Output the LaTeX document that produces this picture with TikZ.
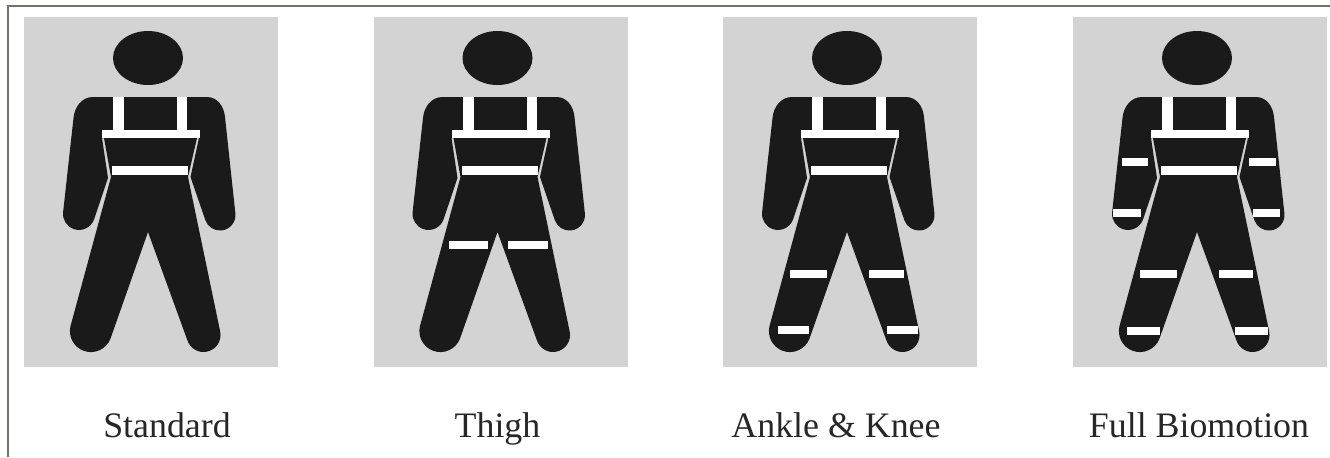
\documentclass[tikz,border=0pt]{standalone}
\usepackage{fontspec}
\setmainfont{Liberation Serif}
\definecolor{suitblack}{HTML}{1A1A1A}
\definecolor{panelgray}{HTML}{D3D3D3}
\definecolor{framegray}{HTML}{6E7566}
\tikzset{
	panel/.style={fill=panelgray},
	suit/.style={fill=suitblack},
	band/.style={fill=white},
	caption/.style={anchor=base, font=\fontsize{20.4}{24}\selectfont, text=black!85}
}
\newcommand{\suitfigure}{%
	\fill[panel] (24,17) rectangle (278,367);
	\fill[suit] (148,58) ellipse [x radius=35, y radius=27];
	\fill[suit]
	(93,97) -- (207,97) to[out=0,in=95] (225,117) -- (235.4,213.5)
	arc[start angle=-5.7, end angle=160.7, radius=15.5]
	-- (190.5,177) -- (199,138) -- (197,138) -- (188,177) -- (220.2,331.6)
	arc[start angle=-11.5, end angle=159.6, radius=17]
	-- (148,232) -- (110.5,338.6)
	arc[start angle=21, end angle=194, radius=21]
	-- (111,177) -- (104,138) -- (102,138) -- (108,178) -- (94.2,219)
	arc[start angle=18.4, end angle=186, radius=16]
	-- (73.5,118) to[out=85,in=180] (93,97) -- cycle;
	% harness and waist
	\fill[band] (113,97) rectangle (124,130);
	\fill[band] (177,97) rectangle (187,130);
	\fill[band] (102,130) rectangle (200,138);
	\fill[band] (112,166) rectangle (188,175);
}
\begin{document}
\begin{tikzpicture}[x=0.02cm, y=-0.02cm]
	\useasboundingbox (0,0) rectangle (1330,457);
	\draw[framegray, line width=1.6pt] (8,457) -- (8,6) -- (1330,6);
	
	\begin{scope}[shift={(0,0)}]
		\suitfigure
		\node[caption] (standard) at (167,437) {Standard};
	\end{scope}
	
	\begin{scope}[shift={(349.5,0)}]
		\suitfigure
		\foreach \x/\w in {99.5/39,158.5/40}{
			\fill[band] (\x,241) rectangle ++(\w,8);
		}
		\node[caption] (thigh) at (148,437) {Thigh};
	\end{scope}
	
	\begin{scope}[shift={(699,0)}]
		\suitfigure
		\foreach \x/\y/\w in {
			91/270/37,170/270/35,
			79/326/31,188/326/31
		}{
			\fill[band] (\x,\y) rectangle ++(\w,8);
		}
		\node[caption] (ankleknee) at (137,437) {Ankle \& Knee};
	\end{scope}
	
	\begin{scope}[shift={(1049,0)}]
		\suitfigure
		\foreach \x/\y/\w in {
			73/158/26,200/158/27,
			64/209/28,204/209/27,
			91/270/37,170/270/34,
			78/327/33,186/327/33
		}{
			\fill[band] (\x,\y) rectangle ++(\w,8);
		}
		\node[caption] (fullbiomotion) at (150,437) {Full Biomotion};
	\end{scope}
\end{tikzpicture}
\end{document}
